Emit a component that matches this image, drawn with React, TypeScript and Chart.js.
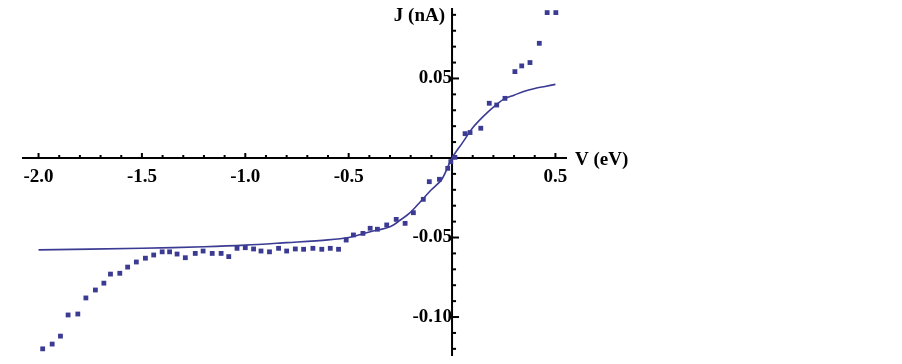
import React, { useEffect, useRef } from "react";
import { Chart, registerables } from "chart.js";
Chart.register(...registerables);

// Measured data points (V in eV, J in nA)
const dataV = [
  -1.98, -1.934, -1.894, -1.857, -1.81, -1.771, -1.725, -1.684, -1.652, -1.607,
  -1.569, -1.527, -1.483, -1.443, -1.402, -1.366, -1.33, -1.29, -1.242, -1.204,
  -1.16, -1.117, -1.08, -1.04, -1.0, -0.96, -0.924, -0.883, -0.839, -0.8,
  -0.758, -0.718, -0.673, -0.63, -0.589, -0.549, -0.512, -0.477, -0.431, -0.396,
  -0.361, -0.316, -0.27, -0.227, -0.187, -0.139, -0.11, -0.061, -0.021, -0.006,
  0.014, 0.063, 0.087, 0.139, 0.18, 0.216, 0.256, 0.304, 0.337, 0.377,
  0.422, 0.46, 0.502,
];
const dataJ = [
  -0.12, -0.117, -0.112, -0.0987, -0.0981, -0.088, -0.083, -0.0787, -0.073, -0.0725,
  -0.0686, -0.0654, -0.063, -0.061, -0.059, -0.059, -0.0604, -0.0627, -0.06, -0.0585,
  -0.06, -0.06, -0.062, -0.0568, -0.0564, -0.0572, -0.0585, -0.059, -0.0568, -0.0585,
  -0.0572, -0.0574, -0.0568, -0.0574, -0.0568, -0.0574, -0.0516, -0.0484, -0.0474, -0.0442,
  -0.0448, -0.0421, -0.0386, -0.0411, -0.0344, -0.026, -0.0149, -0.0134, -0.0065, -0.0023,
  0.0004, 0.0153, 0.016, 0.0187, 0.0344, 0.0333, 0.0375, 0.0543, 0.0579, 0.06,
  0.0721, 0.0914, 0.0914,
];

// Fitted curve
const fitV = [
  -2.0, -1.5, -1.2, -1.0, -0.8, -0.6, -0.5, -0.4, -0.3, -0.25, -0.2, -0.15, -0.1, -0.05,
  0, 0.05, 0.1, 0.15, 0.2, 0.25, 0.3, 0.35, 0.4, 0.45, 0.5,
];
const fitJ = [
  -0.0578, -0.0568, -0.0558, -0.0548, -0.0532, -0.0515, -0.05, -0.0465, -0.0432, -0.039,
  -0.034, -0.027, -0.02, -0.0135, 0, 0.0095, 0.019, 0.026, 0.032, 0.037, 0.0395, 0.042,
  0.0437, 0.045, 0.0463,
];

const xTickValues = [-2.0, -1.5, -1.0, -0.5, 0.5];
const yTickValues = [-0.1, -0.05, 0.05];
const xAxisTitle = "V (eV)";
const yAxisTitle = "J (nA)";

const BLUE = "#3B3B93";
const FONT_FAMILY = "'Liberation Serif', 'Times New Roman', serif";

const axesPlugin = {
  id: "crossAxes",
  beforeDatasetsDraw(chart: any) {
    const { ctx } = chart;
    const xs = chart.scales.x;
    const ys = chart.scales.y;
    const x0 = xs.getPixelForValue(0);
    const y0 = ys.getPixelForValue(0);
    ctx.save();
    ctx.strokeStyle = "#000";
    ctx.lineWidth = 2;
    ctx.beginPath();
    ctx.moveTo(xs.left, y0);
    ctx.lineTo(xs.right, y0);
    ctx.moveTo(x0, ys.top);
    ctx.lineTo(x0, ys.bottom);
    ctx.stroke();
    // x ticks (upward)
    for (let i = -20; i <= 5; i++) {
      const v = i / 10;
      if (i === 0) continue;
      const px = xs.getPixelForValue(v);
      const major = i % 5 === 0;
      ctx.lineWidth = 2;
      ctx.beginPath();
      ctx.moveTo(px, y0);
      ctx.lineTo(px, y0 - (major ? 5 : 3));
      ctx.stroke();
    }
    // y ticks (rightward)
    for (let i = -12; i <= 9; i++) {
      if (i === 0) continue;
      const v = i / 100;
      const py = ys.getPixelForValue(v);
      const major = i % 5 === 0;
      ctx.lineWidth = 2;
      ctx.beginPath();
      ctx.moveTo(x0, py);
      ctx.lineTo(x0 + (major ? 7 : 4), py);
      ctx.stroke();
    }
    ctx.restore();
  },
  afterDraw(chart: any) {
    const { ctx } = chart;
    const xs = chart.scales.x;
    const ys = chart.scales.y;
    const x0 = xs.getPixelForValue(0);
    const y0 = ys.getPixelForValue(0);
    ctx.save();
    ctx.fillStyle = "#000";
    ctx.font = `bold 19px ${FONT_FAMILY}`;
    ctx.textBaseline = "middle";
    ctx.textAlign = "left";
    ctx.fillText(xAxisTitle, xs.right + 8, y0 + 2);
    ctx.textAlign = "right";
    ctx.fillText(yAxisTitle, x0 - 7, ys.top + 8);
    ctx.restore();
  },
};

const zeroPad = (scale: any) => {
  scale.paddingTop = 0;
  scale.paddingBottom = 0;
  scale.paddingLeft = 0;
  scale.paddingRight = 0;
};

export default function App() {
  const ref = useRef<HTMLCanvasElement | null>(null);
  useEffect(() => {
    if (!ref.current) return;
    const chart = new Chart(ref.current, {
      type: "scatter",
      data: {
        datasets: [
          {
            type: "line",
            label: "fit",
            data: fitV.map((v, i) => ({ x: v, y: fitJ[i] })),
            borderColor: BLUE,
            borderWidth: 1.6,
            pointRadius: 0,
            fill: false,
            tension: 0.3,
          } as any,
          {
            label: "data",
            data: dataV.map((v, i) => ({ x: v, y: dataJ[i] })),
            backgroundColor: BLUE,
            borderColor: BLUE,
            borderWidth: 0,
            pointStyle: "rect",
            pointRadius: 3.4,
          },
        ],
      },
      options: {
        animation: false,
        responsive: false,
        maintainAspectRatio: false,
        clip: false as any,
        layout: { padding: { left: 22, right: 335, top: 8, bottom: 8 } },
        plugins: { legend: { display: false }, tooltip: { enabled: false } },
        scales: {
          x: {
            type: "linear",
            position: { y: 0 } as any,
            min: -2.08,
            max: 0.556,
            grid: { display: false },
            border: { display: false },
            afterBuildTicks: (scale: any) => {
              scale.ticks = xTickValues.map((v) => ({ value: v }));
            },
            afterFit: zeroPad,
            ticks: {
              color: "#000",
              padding: 0,
              font: { family: FONT_FAMILY, size: 19, weight: "bold" },
              callback: (v: any) => Number(v).toFixed(1),
            },
          },
          y: {
            type: "linear",
            position: { x: 0 } as any,
            min: -0.1245,
            max: 0.0943,
            grid: { display: false },
            border: { display: false },
            afterBuildTicks: (scale: any) => {
              scale.ticks = yTickValues.map((v) => ({ value: v }));
            },
            afterFit: zeroPad,
            ticks: {
              color: "#000",
              padding: 7,
              font: { family: FONT_FAMILY, size: 19, weight: "bold" },
              callback: (v: any) => Number(v).toFixed(2),
            },
          },
        },
      },
      plugins: [axesPlugin],
    });
    return () => chart.destroy();
  }, []);
  return (
    <div style={{ position: "fixed", left: 0, top: 0, width: 902, height: 364, background: "#fff" }}>
      <canvas ref={ref} width={902} height={364} style={{ width: 902, height: 364 }} />
    </div>
  );
}
